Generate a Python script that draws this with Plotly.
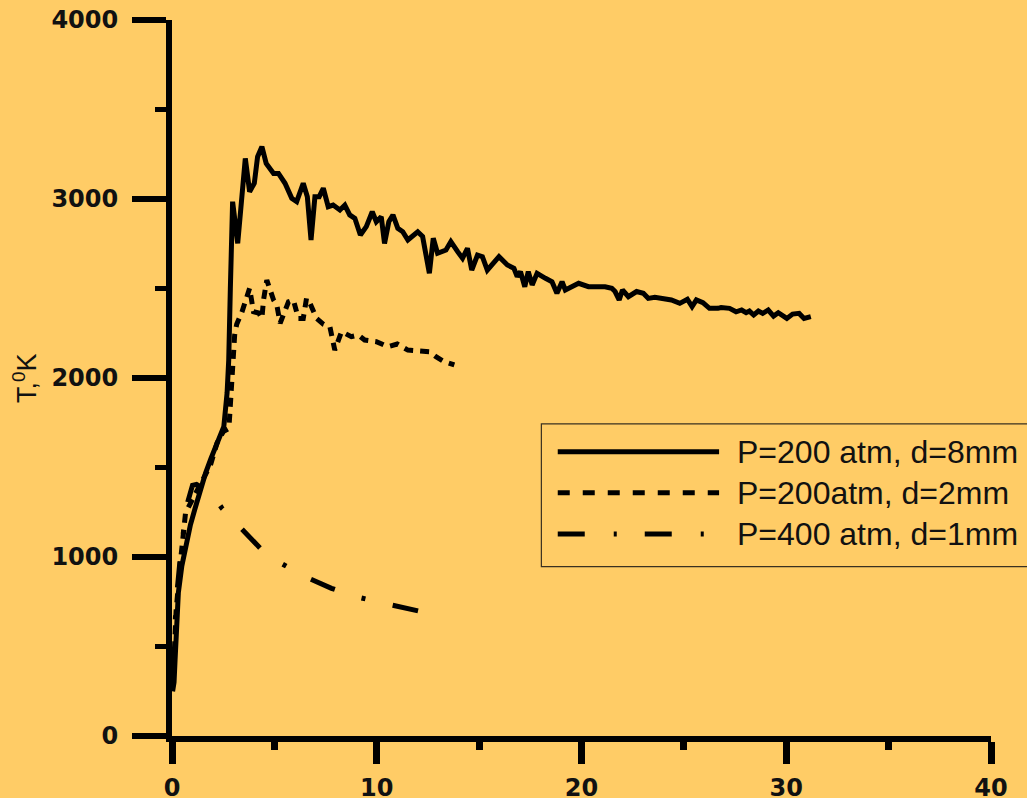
import plotly.graph_objects as go

# ---------------- data ----------------
series_names = ["P=200 atm, d=8mm", "P=200atm, d=2mm", "P=400 atm, d=1mm"]

x_8mm = [0.03, 0.1, 0.15, 0.21, 0.31, 0.48, 0.66, 0.9, 1.15, 1.4, 1.64,
         1.9, 2.12, 2.35, 2.53, 2.69, 2.77, 2.85, 2.96, 3.21, 3.4,
         3.58, 3.79, 4.02, 4.18, 4.39, 4.6, 4.96, 5.2, 5.52, 5.85,
         6.09, 6.41, 6.61, 6.79, 6.98, 7.19, 7.39, 7.63, 7.87, 8.2,
         8.44, 8.68, 8.93, 9.2, 9.49, 9.78, 9.98, 10.22, 10.38, 10.59,
         10.79, 11.03, 11.27, 11.52, 11.76, 12.0, 12.24, 12.41, 12.57, 12.76,
         12.97, 13.38, 13.62, 13.95, 14.19, 14.43, 14.64, 14.92, 15.16, 15.4,
         15.97, 16.38, 16.7, 16.86, 17.02, 17.23, 17.4, 17.59, 17.83, 18.24,
         18.56, 18.8, 19.05, 19.21, 19.53, 19.86, 20.34, 20.83, 21.15, 21.48,
         21.64, 21.84, 22.0, 22.29, 22.69, 23.02, 23.26, 23.58, 24.07, 24.39,
         24.8, 25.17, 25.4, 25.61, 25.93, 26.25, 26.66, 26.82, 27.23, 27.55,
         27.82, 28.04, 28.2, 28.41, 28.64, 28.85, 29.12, 29.38, 29.61, 30.03,
         30.31, 30.63, 30.87, 31.2]
T_8mm = [250, 300, 425, 610, 800, 950, 1058, 1180, 1281, 1380, 1469,
         1550, 1616, 1680, 1728, 1916, 2100, 2500, 2985, 2752, 3000,
         3227, 3041, 3088, 3236, 3292, 3199, 3143, 3143, 3088, 3004,
         2985, 3088, 3013, 2771, 3013, 3013, 3060, 2957, 2966, 2939,
         2966, 2911, 2892, 2799, 2846, 2929, 2873, 2901, 2752, 2873,
         2911, 2836, 2817, 2771, 2790, 2817, 2790, 2697, 2585, 2781,
         2697, 2715, 2762, 2706, 2669, 2725, 2603, 2687, 2678, 2603,
         2678, 2631, 2613, 2566, 2594, 2510, 2594, 2520, 2585, 2557,
         2538, 2473, 2538, 2492, 2510, 2529, 2510, 2510, 2510, 2501,
         2483, 2436, 2492, 2454, 2483, 2473, 2445, 2451, 2445, 2436,
         2417, 2440, 2399, 2436, 2421, 2389, 2389, 2394, 2389, 2370,
         2380, 2365, 2374, 2352, 2374, 2361, 2380, 2346, 2365, 2333,
         2357, 2361, 2333, 2343]

x_2mm = [0.05, 0.2, 0.42, 0.66, 0.9, 1.2, 1.55, 1.88, 2.2, 2.5,
         2.78, 2.85, 2.93, 2.98, 3.06, 3.16, 3.42, 3.79, 3.98, 4.23,
         4.39, 4.47, 4.63, 4.96, 5.12, 5.28, 5.52, 5.69, 5.93, 6.17,
         6.41, 6.57, 6.74, 7.06, 7.4, 7.71, 7.95, 8.28, 8.76, 9.1,
         9.41, 9.98, 10.54, 11.0, 11.52, 11.92, 12.57, 12.89, 13.3, 13.79]
T_2mm = [300, 700, 983, 1245, 1300, 1370, 1440, 1514, 1637, 1700,
         1719, 1849, 1972, 2119, 2240, 2300, 2370, 2501, 2370, 2363,
         2333, 2436, 2547, 2436, 2408, 2306, 2370, 2426, 2436, 2333,
         2333, 2445, 2417, 2333, 2300, 2287, 2156, 2259, 2231, 2240,
         2212, 2203, 2175, 2190, 2156, 2153, 2147, 2119, 2091, 2073]

x_1mm = [0.05, 0.2, 0.45, 0.75, 1.0, 1.2, 1.7, 2.1, 2.43, 3.35,
         4.31, 5.28, 6.5, 7.79, 9.0, 10.38, 11.76, 12.4]
T_1mm = [350, 750, 1050, 1300, 1400, 1405, 1374, 1330, 1274, 1162,
         1049, 968, 890, 825, 778, 741, 704, 689]

x_ticks = [0, 10, 20, 30, 40]
y_ticks = [0, 1000, 2000, 3000, 4000]

# ---------------- styles ----------------
BG = "#FFCC66"
INK = "#000000"
dash_styles = ["solid", "9px,7px", "26px,28px,4px,28px"]
legend_dash = ["solid", "12px,13px", "27px,29px,3px,28px"]
widths = [5, 5, 5]

fig = go.Figure()
for xs, ys, name, dash, w in zip([x_8mm, x_2mm, x_1mm], [T_8mm, T_2mm, T_1mm],
                                 series_names, dash_styles, widths):
    fig.add_trace(go.Scatter(x=xs, y=ys, mode="lines", name=name,
                             line=dict(color=INK, width=w, dash=dash),
                             showlegend=False))

tick_font = dict(family="DejaVu Sans", size=24, color="#111111", weight="bold")

fig.update_layout(
    width=1027, height=798, autosize=False,
    margin=dict(l=172, r=36, t=20, b=62, pad=0),
    paper_bgcolor=BG, plot_bgcolor=BG,
    xaxis=dict(range=[0, 40], tickvals=x_ticks, ticks="outside", ticklen=22,
               tickwidth=7, tickcolor=INK, showline=True, linewidth=6,
               linecolor=INK, showgrid=False, zeroline=False, automargin=False,
               tickfont=tick_font, ticklabelstandoff=3,
               minor=dict(tick0=0, dtick=5, ticks="outside", ticklen=8,
                          tickwidth=7, tickcolor=INK, showgrid=False)),
    yaxis=dict(range=[0, 4000], tickvals=y_ticks, ticks="outside", ticklen=34,
               tickwidth=6, tickcolor=INK, showline=True, linewidth=6,
               linecolor=INK, showgrid=False, zeroline=False, automargin=False,
               tickfont=tick_font, ticklabelstandoff=9,
               minor=dict(tick0=0, dtick=500, ticks="outside", ticklen=11,
                          tickwidth=5, tickcolor=INK, showgrid=False)),
)

# y-axis title
fig.add_annotation(text="T,<sup>0</sup>K", xref="paper", yref="paper",
                   x=-0.1795, y=0.5, xanchor="center", yanchor="middle",
                   textangle=-90, showarrow=False,
                   font=dict(family="Liberation Sans", size=27, color="#111111"))

# legend box (drawn manually so the sample lines are long)
fig.add_shape(type="rect", xref="paper", yref="paper",
              x0=0.451, x1=1.06, y0=0.2365, y1=0.4358,
              line=dict(color="#3a3020", width=1.2), fillcolor=BG, layer="above")
legend_rows = [0.397, 0.3398, 0.2821]
for name, dash, ly in zip(series_names, legend_dash, legend_rows):
    fig.add_shape(type="line", xref="paper", yref="paper",
                  x0=0.471, x1=0.668, y0=ly, y1=ly,
                  line=dict(color=INK, width=5, dash=dash), layer="above")
    fig.add_annotation(text=name, xref="paper", yref="paper",
                       x=0.6875, y=ly, xanchor="left", yanchor="middle",
                       showarrow=False,
                       font=dict(family="Liberation Sans", size=32, color="#111111"))

fig.write_html("out.html", config={"displayModeBar": False},
               post_script="document.body.style.margin='0px';"
                           "document.body.style.overflow='hidden';")
